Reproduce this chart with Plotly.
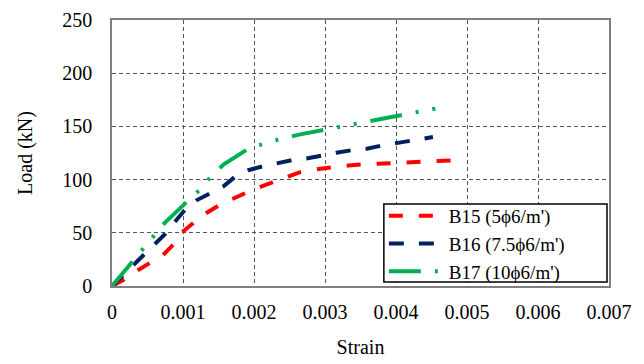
import plotly.graph_objects as go

# ---- data ----
b15_strain = [0, 0.00017, 0.00037, 0.000535, 0.00072, 0.00086, 0.001, 0.00117, 0.00133, 0.00152,
              0.00171, 0.0019, 0.00208, 0.00227, 0.00248, 0.00265, 0.00291, 0.00309, 0.00333,
              0.00352, 0.00375, 0.00394, 0.0042, 0.00438, 0.00462, 0.00481]
b15_load = [0, 6, 15.1, 21.4, 29.2, 38.7, 51.2, 60.7, 68.6, 76.4,
            82.7, 88, 93, 97.5, 103, 107, 110, 111.6, 113.2,
            114.2, 114.8, 115.7, 116.3, 116.7, 117.9, 118.2]

b16_strain = [0, 0.0003, 0.00044, 0.0006, 0.00075, 0.00089, 0.00103, 0.00119, 0.00138, 0.00157,
              0.00173, 0.00192, 0.00213, 0.00232, 0.00253, 0.00274, 0.00295, 0.00316, 0.00338,
              0.00359, 0.0038, 0.00401, 0.00422, 0.00443, 0.00452]
b16_load = [0, 19.8, 28.6, 40.3, 49, 60.7, 71.7, 80.5, 87.4, 93.7,
            102.5, 108.8, 112.6, 115.1, 118.2, 119.8, 122.9, 125.2, 127.7,
            129, 132, 134.6, 137.1, 139, 140]

b17_strain = [0, 0.00028, 0.00043, 0.00058, 0.00074, 0.00106, 0.00123, 0.00139, 0.00157, 0.00194,
              0.00215, 0.00239, 0.00265, 0.00307, 0.00328, 0.00353, 0.00375, 0.0042, 0.00442, 0.00467]
b17_load = [0, 22.9, 34.9, 47.2, 59.1, 79.5, 90, 102.5, 114.2, 129.9,
            134, 138.4, 142.5, 147.8, 150.9, 153.5, 156, 162, 164.5, 168.2]

series_names = ["B15 (5ϕ6/m')", "B16 (7.5ϕ6/m')", "B17 (10ϕ6/m')"]
x_ticks = [0, 0.001, 0.002, 0.003, 0.004, 0.005, 0.006, 0.007]
x_tick_labels = ["0", "0.001", "0.002", "0.003", "0.004", "0.005", "0.006", "0.007"]
y_ticks = [0, 50, 100, 150, 200, 250]

FONT = "Liberation Serif"

fig = go.Figure()
fig.add_trace(go.Scatter(x=b15_strain, y=b15_load, mode="lines", name=series_names[0],
                         line=dict(color="#FF0000", width=4, dash="14px,16px")))
fig.add_trace(go.Scatter(x=b16_strain, y=b16_load, mode="lines", name=series_names[1],
                         line=dict(color="#002060", width=4, dash="15px,15px")))
fig.add_trace(go.Scatter(x=b17_strain, y=b17_load, mode="lines", name=series_names[2],
                         line=dict(color="#00B050", width=4, dash="32px,14px,3px,14px,3px,14px")))

axis_common = dict(showline=True, linecolor="#7f7f7f", linewidth=1.5, mirror=True,
                   showgrid=True, gridcolor="#555555", gridwidth=1, griddash="4px,3px",
                   zeroline=False, ticks="", automargin=False,
                   tickfont=dict(family=FONT, size=20, color="black"))

fig.update_xaxes(range=[0, 0.007], tickvals=x_ticks, ticktext=x_tick_labels,
                 title=dict(text="Strain", font=dict(family=FONT, size=20, color="black"), standoff=18),
                 ticklabelstandoff=7, **axis_common)
fig.update_yaxes(range=[0, 250], tickvals=y_ticks,
                 title=dict(text="Load (kN)", font=dict(family=FONT, size=20, color="black"), standoff=24),
                 ticklabelstandoff=14, **axis_common)

# legend frame (white box with black border) drawn as a paper-referenced shape
fig.add_shape(type="rect", xref="paper", yref="paper",
              x0=0.547, x1=0.996, y0=0.015, y1=0.308,
              fillcolor="white", line=dict(color="black", width=1.5), layer="above")

fig.update_layout(
    width=644, height=364,
    margin=dict(l=112, r=35, t=20, b=78, autoexpand=False),
    paper_bgcolor="white", plot_bgcolor="white",
    font=dict(family=FONT, size=20, color="black"),
    showlegend=True,
    legend=dict(x=0.547, y=0.335, xanchor="left", yanchor="top",
                bgcolor="rgba(0,0,0,0)", borderwidth=0,
                font=dict(family=FONT, size=19, color="black"),
                tracegroupgap=0, itemwidth=55),
)

fig.write_html("out.html", config={"displayModeBar": False},
               post_script="document.body.style.margin='0';document.body.style.overflow='hidden';")
